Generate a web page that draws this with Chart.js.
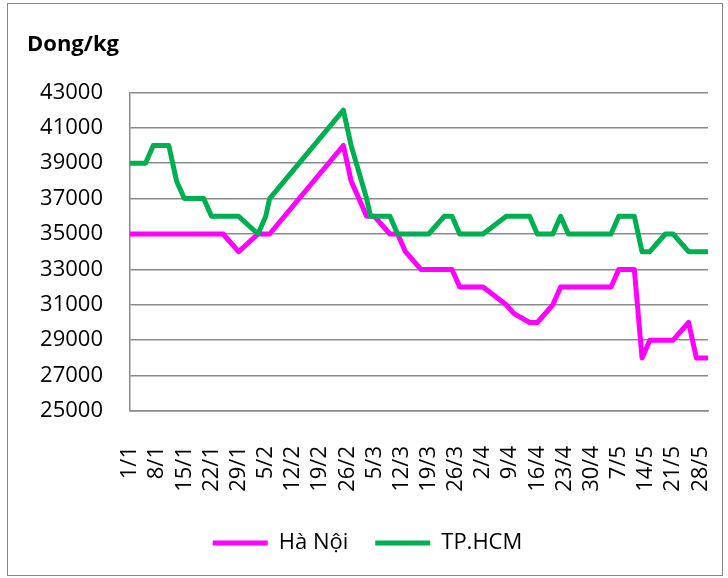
<!DOCTYPE html>
<html>
<head>
<meta charset="utf-8">
<script src="https://cdn.jsdelivr.net/npm/chart.js@4.4.0/dist/chart.umd.min.js"></script>
<style>
    body { margin: 0; background: #fff; }
    #wrap { position: relative; width: 728px; height: 578px; }
    #frame { position: absolute; left: 7px; top: 3px; width: 714px; height: 571px; border: 1px solid #868686; pointer-events: none; }
</style>
</head>
<body>
<div id="wrap">
    <canvas id="priceChart" width="728" height="578"></canvas>
    <div id="frame"></div>
</div>
<script>
// day number counted from 1/1 (non-leap year)
const days  = [0, 4, 6, 10, 12, 14, 19, 21, 24, 28, 33, 35, 36, 55, 57, 59, 61, 62, 63, 67, 69, 71, 75, 77, 81, 83, 85, 91, 97, 99, 103, 105, 109, 111, 113, 124, 126, 130, 132, 134, 138, 140, 144, 146, 149];
const haNoi = [35000, 35000, 35000, 35000, 35000, 35000, 35000, 35000, 35000, 34000, 35000, 35000, 35000, 40000, 38000, 37000, 36000, 36000, 36000, 35000, 35000, 34000, 33000, 33000, 33000, 33000, 32000, 32000, 31000, 30500, 30000, 30000, 31000, 32000, 32000, 32000, 33000, 33000, 28000, 29000, 29000, 29000, 30000, 28000, 28000];
const tpHCM = [39000, 39000, 40000, 40000, 38000, 37000, 37000, 36000, 36000, 36000, 35000, 36000, 37000, 42000, 40000, 38500, 37000, 36000, 36000, 36000, 35000, 35000, 35000, 35000, 36000, 36000, 35000, 35000, 36000, 36000, 36000, 35000, 35000, 36000, 35000, 35000, 36000, 36000, 34000, 34000, 35000, 35000, 34000, 34000, 34000];

const tickDays   = [0, 7, 14, 21, 28, 35, 42, 49, 56, 63, 70, 77, 84, 91, 98, 105, 112, 119, 126, 133, 140, 147];
const tickLabels = ['1/1', '8/1', '15/1', '22/1', '29/1', '5/2', '12/2', '19/2', '26/2', '5/3', '12/3', '19/3', '26/3', '2/4', '9/4', '16/4', '23/4', '30/4', '7/5', '14/5', '21/5', '28/5'];

const gridColor = '#8a8a8a';

Chart.defaults.font.family = "'Open Sans', sans-serif";
Chart.defaults.font.size = 22;
Chart.defaults.color = '#000';

function toPoints(values) {
    return days.map((d, i) => ({ x: d, y: values[i] }));
}

const ctx = document.getElementById('priceChart').getContext('2d');
const priceChart = new Chart(ctx, {
    type: 'line',
    data: {
        datasets: [{
            label: 'Hà Nội',
            data: toPoints(haNoi),
            borderColor: '#FF00FF',
            backgroundColor: '#FF00FF',
            borderWidth: 5,
            order: 1
        }, {
            label: 'TP.HCM',
            data: toPoints(tpHCM),
            borderColor: '#00B050',
            backgroundColor: '#00B050',
            borderWidth: 5,
            order: 0
        }]
    },
    options: {
        responsive: false,
        animation: false,
        elements: {
            point: { radius: 0 },
            line: { tension: 0, borderJoinStyle: 'round', borderCapStyle: 'round' }
        },
        layout: {
            padding: { top: 20, left: 27, right: 20, bottom: 14 }
        },
        plugins: {
            title: {
                display: true,
                text: 'Dong/kg',
                align: 'start',
                font: { weight: 'bold', size: 22 },
                padding: { top: 12, bottom: 34 }
            },
            legend: {
                position: 'bottom',
                labels: {
                    boxWidth: 55,
                    boxHeight: 5,
                    padding: 27,
                    sort: (a, b) => a.datasetIndex - b.datasetIndex,
                    generateLabels: chart => Chart.defaults.plugins.legend.labels.generateLabels(chart)
                        .map(item => ({ ...item, fillStyle: item.strokeStyle, lineWidth: 0 }))
                }
            },
            tooltip: { enabled: false }
        },
        scales: {
            x: {
                type: 'linear',
                min: 0,
                max: 149,
                grid: { display: false },
                border: { display: true, color: gridColor, width: 1.5 },
                afterBuildTicks: scale => {
                    scale.ticks = tickDays.map(v => ({ value: v }));
                },
                afterFit: scale => {
                    scale.height = 94;
                    // rotated labels would otherwise push the plot in from the right
                    scale.paddingLeft = 0;
                    scale.paddingRight = 0;
                },
                ticks: {
                    autoSkip: false,
                    minRotation: 90,
                    maxRotation: 90,
                    padding: 27,
                    callback: (value, index) => tickLabels[index]
                }
            },
            y: {
                min: 25000,
                max: 43000,
                grid: { color: gridColor, lineWidth: 1.5, drawTicks: false },
                border: { display: true, color: gridColor, width: 1.5 },
                afterFit: scale => {
                    scale.width = 103;
                },
                ticks: {
                    stepSize: 2000,
                    padding: 27,
                    callback: value => String(value)
                }
            }
        }
    }
});
</script>
</body>
</html>
